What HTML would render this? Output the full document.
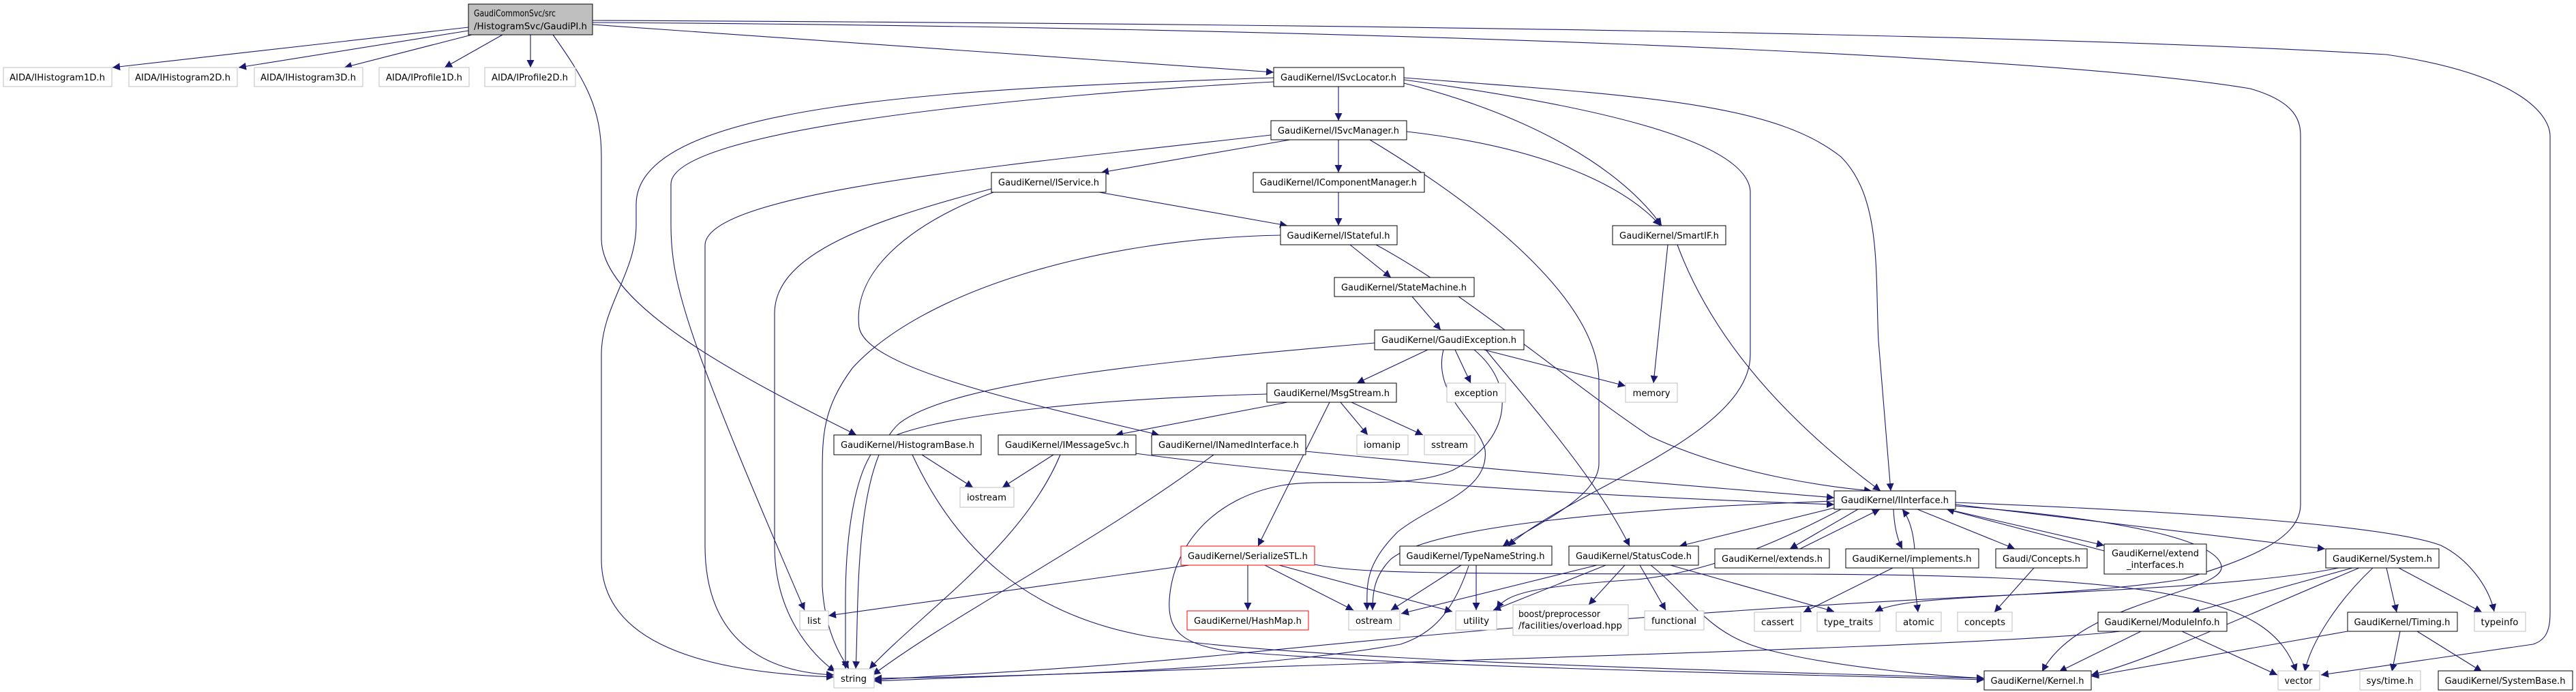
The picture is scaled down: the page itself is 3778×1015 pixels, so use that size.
<!DOCTYPE html>
<html><head><meta charset="utf-8"><style>
html,body{margin:0;padding:0;background:#fff;}
svg{display:block;}
text{font-family:"DejaVu Sans","Liberation Sans",sans-serif;font-size:13px;fill:#000;}
</style></head><body>
<svg width="3778" height="1015" viewBox="0 0 3778 1015" xmlns="http://www.w3.org/2000/svg">
<defs>
<marker id="a" viewBox="0 0 10 10" refX="10" refY="5" markerWidth="11" markerHeight="11" markerUnits="userSpaceOnUse" orient="auto">
<path d="M0,0 L10,5 L0,10 z" fill="#191970"/>
</marker>
</defs>
<g fill="none" stroke="#191970" stroke-width="1.1" marker-end="url(#a)">
<path d="M687,40 L165,99"/>
<path d="M687,45 L350,99"/>
<path d="M692,51 L505,99"/>
<path d="M737,51 L652,99"/>
<path d="M778,51 L778,99"/>
<path d="M869,36 L1868,106"/>
<path d="M811,51 C860,120 882,160 882,230 L882,350 C882,450 1100,560 1256,638"/>
<path d="M869,30 C2000,35 3000,50 3500,80 C3700,110 3740,170 3740,200 L3740,900 C3740,930 3730,940 3715,945 L3404,990"/>
<path d="M869,33 C2000,40 3000,80 3300,130 C3370,150 3374,180 3374,200 L3374,740 C3374,790 3300,820 3200,850 C3000,880 2800,870 2750,897"/>
<path d="M1963,127 L1963,177"/>
<path d="M1868,114 C1400,130 933,150 933,300 L933,330 C933,400 882,450 882,520 L882,820 C882,930 1000,985 1223,993"/>
<path d="M1868,120 C1500,140 984,190 984,270 L984,330 C984,420 1010,500 1180,895"/>
<path d="M2059,122 C2250,170 2380,250 2437,331"/>
<path d="M2059,117 C2300,150 2560,200 2567,280 L2567,520 C2567,640 2300,720 2212,801"/>
<path d="M2059,114 C2400,140 2600,150 2700,230 C2760,290 2750,400 2755,500 L2773,720"/>
<path d="M1892,205 L1615,253"/>
<path d="M1963,205 L1963,253"/>
<path d="M2063,193 C2300,220 2400,290 2435,331"/>
<path d="M2009,205 C2200,320 2345,450 2345,560 L2345,680 C2345,730 2250,770 2204,801"/>
<path d="M1864,198 C1500,240 1034,280 1034,360 L1034,800 C1034,920 1100,985 1223,990"/>
<path d="M1612,282 L1888,331"/>
<path d="M1963,282 L1963,331"/>
<path d="M1454,277 C1250,330 1136,380 1136,460 L1136,800 C1136,900 1190,960 1225,985"/>
<path d="M1457,282 C1330,330 1250,400 1260,480 C1270,540 1500,590 1700,638"/>
<path d="M1980,359 L2040,407"/>
<path d="M1878,345 C1600,350 1350,430 1250,540 C1206,600 1206,640 1206,700 L1206,860 C1210,930 1235,965 1245,981"/>
<path d="M2018,359 C2150,430 2300,560 2420,640 C2550,700 2700,716 2745,720"/>
<path d="M2446,359 L2425,562"/>
<path d="M2460,359 C2520,520 2650,640 2758,720"/>
<path d="M2071,435 L2113,484"/>
<path d="M2094,513 L1990,562"/>
<path d="M2134,513 L2157,562"/>
<path d="M2176,513 L2384,566"/>
<path d="M2179,513 C2250,600 2340,700 2390,801"/>
<path d="M2016,503 C1700,530 1400,560 1320,620 C1250,680 1260,900 1255,981"/>
<path d="M2117,513 C2100,580 2170,620 2178,660 C2185,720 2100,740 2050,780 C2000,830 2005,860 2005,895"/>
<path d="M2162,513 C2230,570 2210,650 2130,690 C2060,720 1950,700 1880,712 C1780,730 1720,800 1715,880 C1712,930 1740,945 1800,955 C2100,980 2600,988 2910,997"/>
<path d="M1888,590 L1636,638"/>
<path d="M1950,590 L1845,801"/>
<path d="M1966,590 L2006,638"/>
<path d="M1982,590 L2087,638"/>
<path d="M1858,578 C1600,585 1350,610 1290,650 C1250,690 1240,800 1240,880 L1240,981"/>
<path d="M1352,667 L1427,715"/>
<path d="M1338,667 C1400,800 1500,900 1681,933 C1900,970 2600,985 2910,995"/>
<path d="M1545,667 L1470,715"/>
<path d="M1555,667 C1500,800 1350,900 1275,981"/>
<path d="M1665,665 C2000,710 2400,730 2690,740"/>
<path d="M1780,667 C1600,800 1400,900 1280,990"/>
<path d="M1915,662 C2200,690 2450,710 2690,730"/>
<path d="M1830,829 L1830,895"/>
<path d="M1855,829 L1985,895"/>
<path d="M1876,829 L2130,897"/>
<path d="M1744,829 L1215,903"/>
<path d="M1928,828 C1990,840 2063,842 2600,842 C3200,842 3330,880 3368,985"/>
<path d="M2143,829 L2040,895"/>
<path d="M2165,829 L2165,895"/>
<path d="M2154,830 C2130,900 2100,930 2054,945 C1800,990 1400,993 1282,995"/>
<path d="M2342,829 L2055,900"/>
<path d="M2355,829 L2190,895"/>
<path d="M2383,829 L2330,887"/>
<path d="M2405,829 L2443,895"/>
<path d="M2421,829 C2480,875 2505,935 2600,955 C2700,980 2850,992 2910,995"/>
<path d="M2450,829 L2690,897"/>
<path d="M2690,735 C2400,745 2100,770 2040,820 C2015,845 2013,870 2013,895"/>
<path d="M2690,745 L2463,801"/>
<path d="M2725,747 L2625,805"/>
<path d="M2640,805 L2757,747"/>
<path d="M2777,747 C2778,770 2782,790 2790,805"/>
<path d="M2808,805 C2806,780 2800,760 2790,747"/>
<path d="M2812,747 L2955,805"/>
<path d="M2856,747 L3086,800"/>
<path d="M3086,808 L2855,747"/>
<path d="M2868,740 L3410,805"/>
<path d="M2868,737 C3200,750 3500,770 3580,800 C3620,820 3650,860 3658,897"/>
<path d="M2868,742 C3100,760 3250,790 3258,830 C3265,870 3050,880 2995,985"/>
<path d="M2700,747 C2600,800 2500,840 2400,850 C2250,860 2210,870 2195,893"/>
<path d="M2805,833 L2813,898"/>
<path d="M2776,833 L2645,898"/>
<path d="M2983,833 L2925,898"/>
<path d="M3460,833 C3300,900 3150,970 3067,990"/>
<path d="M3450,833 L3215,898"/>
<path d="M3480,833 C3430,880 3390,940 3380,985"/>
<path d="M3500,833 L3515,898"/>
<path d="M3518,833 L3640,898"/>
<path d="M3430,833 C3300,860 3000,870 2900,875 C2400,900 2000,940 1800,960 C1600,980 1400,990 1282,997"/>
<path d="M3140,926 L3020,985"/>
<path d="M3200,926 L3340,990"/>
<path d="M3110,926 C2900,950 2000,970 1282,999"/>
<path d="M3443,926 L3067,992"/>
<path d="M3520,926 L3508,985"/>
<path d="M3545,926 L3640,985"/>
</g>
<g stroke-width="1">
<rect x="687" y="6" width="182" height="45" fill="#bfbfbf" stroke="#000"/>
<text x="695" y="24" textLength="120" lengthAdjust="spacingAndGlyphs">GaudiCommonSvc/src</text>
<text x="695" y="43" textLength="166" lengthAdjust="spacingAndGlyphs">/HistogramSvc/GaudiPI.h</text>
</g>
<g fill="#fff" stroke-width="1">
<rect x="5" y="99" width="159" height="28" stroke="#bfbfbf"/>
<rect x="189" y="99" width="159" height="28" stroke="#bfbfbf"/>
<rect x="373" y="99" width="159" height="28" stroke="#bfbfbf"/>
<rect x="556" y="99" width="132" height="28" stroke="#bfbfbf"/>
<rect x="711" y="99" width="133" height="28" stroke="#bfbfbf"/>
<rect x="1868" y="99" width="191" height="28" stroke="#000"/>
<rect x="1864" y="177" width="199" height="28" stroke="#000"/>
<rect x="1454" y="253" width="168" height="29" stroke="#000"/>
<rect x="1838" y="253" width="251" height="29" stroke="#000"/>
<rect x="1878" y="331" width="171" height="28" stroke="#000"/>
<rect x="2365" y="331" width="166" height="28" stroke="#000"/>
<rect x="1957" y="407" width="205" height="28" stroke="#000"/>
<rect x="2016" y="484" width="219" height="29" stroke="#000"/>
<rect x="1858" y="562" width="190" height="28" stroke="#000"/>
<rect x="2122" y="562" width="86" height="28" stroke="#bfbfbf"/>
<rect x="2384" y="562" width="76" height="28" stroke="#bfbfbf"/>
<rect x="1223" y="638" width="216" height="29" stroke="#000"/>
<rect x="1464" y="638" width="202" height="29" stroke="#000"/>
<rect x="1689" y="638" width="226" height="29" stroke="#000"/>
<rect x="1990" y="638" width="75" height="29" stroke="#bfbfbf"/>
<rect x="2089" y="638" width="74" height="29" stroke="#bfbfbf"/>
<rect x="1408" y="715" width="79" height="29" stroke="#bfbfbf"/>
<rect x="2690" y="720" width="178" height="27" stroke="#000"/>
<rect x="1732" y="801" width="196" height="28" stroke="#ff0000"/>
<rect x="2053" y="801" width="223" height="28" stroke="#000"/>
<rect x="2301" y="801" width="190" height="28" stroke="#000"/>
<rect x="2515" y="805" width="168" height="28" stroke="#000"/>
<rect x="2707" y="805" width="195" height="28" stroke="#000"/>
<rect x="2927" y="805" width="134" height="28" stroke="#000"/>
<rect x="3086" y="798" width="150" height="44" stroke="#000"/>
<rect x="3411" y="805" width="166" height="28" stroke="#000"/>
<rect x="1741" y="896" width="178" height="28" stroke="#ff0000"/>
<rect x="1978" y="896" width="75" height="28" stroke="#bfbfbf"/>
<rect x="2135" y="896" width="60" height="28" stroke="#bfbfbf"/>
<rect x="2219" y="887" width="169" height="45" stroke="#bfbfbf"/>
<rect x="2412" y="896" width="87" height="28" stroke="#bfbfbf"/>
<rect x="1173" y="896" width="42" height="28" stroke="#bfbfbf"/>
<rect x="2573" y="898" width="68" height="28" stroke="#bfbfbf"/>
<rect x="2665" y="898" width="92" height="28" stroke="#bfbfbf"/>
<rect x="2781" y="898" width="66" height="28" stroke="#bfbfbf"/>
<rect x="2871" y="898" width="80" height="28" stroke="#bfbfbf"/>
<rect x="3077" y="898" width="189" height="28" stroke="#000"/>
<rect x="3443" y="898" width="161" height="28" stroke="#000"/>
<rect x="3629" y="898" width="75" height="28" stroke="#bfbfbf"/>
<rect x="1223" y="981" width="59" height="28" stroke="#bfbfbf"/>
<rect x="2910" y="984" width="157" height="28" stroke="#000"/>
<rect x="3341" y="984" width="61" height="28" stroke="#bfbfbf"/>
<rect x="3461" y="984" width="89" height="28" stroke="#bfbfbf"/>
<rect x="3576" y="984" width="197" height="28" stroke="#000"/>
</g>
<g text-anchor="middle">
<text x="84" y="118" textLength="140" lengthAdjust="spacingAndGlyphs">AIDA/IHistogram1D.h</text>
<text x="268" y="118" textLength="140" lengthAdjust="spacingAndGlyphs">AIDA/IHistogram2D.h</text>
<text x="452" y="118" textLength="140" lengthAdjust="spacingAndGlyphs">AIDA/IHistogram3D.h</text>
<text x="622" y="118" textLength="112" lengthAdjust="spacingAndGlyphs">AIDA/IProfile1D.h</text>
<text x="777" y="118" textLength="112" lengthAdjust="spacingAndGlyphs">AIDA/IProfile2D.h</text>
<text x="1963" y="118" textLength="170" lengthAdjust="spacingAndGlyphs">GaudiKernel/ISvcLocator.h</text>
<text x="1963" y="196" textLength="178" lengthAdjust="spacingAndGlyphs">GaudiKernel/ISvcManager.h</text>
<text x="1538" y="272" textLength="148" lengthAdjust="spacingAndGlyphs">GaudiKernel/IService.h</text>
<text x="1963" y="272" textLength="230" lengthAdjust="spacingAndGlyphs">GaudiKernel/IComponentManager.h</text>
<text x="1963" y="350" textLength="151" lengthAdjust="spacingAndGlyphs">GaudiKernel/IStateful.h</text>
<text x="2448" y="350" textLength="146" lengthAdjust="spacingAndGlyphs">GaudiKernel/SmartIF.h</text>
<text x="2059" y="426" textLength="184" lengthAdjust="spacingAndGlyphs">GaudiKernel/StateMachine.h</text>
<text x="2125" y="503" textLength="198" lengthAdjust="spacingAndGlyphs">GaudiKernel/GaudiException.h</text>
<text x="1953" y="581" textLength="170" lengthAdjust="spacingAndGlyphs">GaudiKernel/MsgStream.h</text>
<text x="2165" y="581" textLength="64" lengthAdjust="spacingAndGlyphs">exception</text>
<text x="2422" y="581" textLength="55" lengthAdjust="spacingAndGlyphs">memory</text>
<text x="1331" y="657" textLength="196" lengthAdjust="spacingAndGlyphs">GaudiKernel/HistogramBase.h</text>
<text x="1565" y="657" textLength="182" lengthAdjust="spacingAndGlyphs">GaudiKernel/IMessageSvc.h</text>
<text x="1802" y="657" textLength="206" lengthAdjust="spacingAndGlyphs">GaudiKernel/INamedInterface.h</text>
<text x="2027" y="657" textLength="54" lengthAdjust="spacingAndGlyphs">iomanip</text>
<text x="2126" y="657" textLength="54" lengthAdjust="spacingAndGlyphs">sstream</text>
<text x="1447" y="734" textLength="58" lengthAdjust="spacingAndGlyphs">iostream</text>
<text x="2779" y="738" textLength="158" lengthAdjust="spacingAndGlyphs">GaudiKernel/IInterface.h</text>
<text x="1830" y="820" textLength="176" lengthAdjust="spacingAndGlyphs">GaudiKernel/SerializeSTL.h</text>
<text x="2164" y="820" textLength="203" lengthAdjust="spacingAndGlyphs">GaudiKernel/TypeNameString.h</text>
<text x="2396" y="820" textLength="170" lengthAdjust="spacingAndGlyphs">GaudiKernel/StatusCode.h</text>
<text x="2599" y="824" textLength="148" lengthAdjust="spacingAndGlyphs">GaudiKernel/extends.h</text>
<text x="2804" y="824" textLength="175" lengthAdjust="spacingAndGlyphs">GaudiKernel/implements.h</text>
<text x="2994" y="824" textLength="114" lengthAdjust="spacingAndGlyphs">Gaudi/Concepts.h</text>
<text x="3161" y="816" textLength="128" lengthAdjust="spacingAndGlyphs">GaudiKernel/extend</text>
<text x="3161" y="833" textLength="84" lengthAdjust="spacingAndGlyphs">_interfaces.h</text>
<text x="3494" y="824" textLength="146" lengthAdjust="spacingAndGlyphs">GaudiKernel/System.h</text>
<text x="1830" y="915" textLength="158" lengthAdjust="spacingAndGlyphs">GaudiKernel/HashMap.h</text>
<text x="2015" y="915" textLength="54" lengthAdjust="spacingAndGlyphs">ostream</text>
<text x="2165" y="915" textLength="38" lengthAdjust="spacingAndGlyphs">utility</text>
<text x="2455" y="915" textLength="66" lengthAdjust="spacingAndGlyphs">functional</text>
<text x="1194" y="915" textLength="20" lengthAdjust="spacingAndGlyphs">list</text>
<text x="2607" y="917" textLength="48" lengthAdjust="spacingAndGlyphs">cassert</text>
<text x="2711" y="917" textLength="72" lengthAdjust="spacingAndGlyphs">type_traits</text>
<text x="2814" y="917" textLength="46" lengthAdjust="spacingAndGlyphs">atomic</text>
<text x="2911" y="917" textLength="60" lengthAdjust="spacingAndGlyphs">concepts</text>
<text x="3171" y="917" textLength="169" lengthAdjust="spacingAndGlyphs">GaudiKernel/ModuleInfo.h</text>
<text x="3523" y="917" textLength="141" lengthAdjust="spacingAndGlyphs">GaudiKernel/Timing.h</text>
<text x="3666" y="917" textLength="55" lengthAdjust="spacingAndGlyphs">typeinfo</text>
<text x="1252" y="1000" textLength="38" lengthAdjust="spacingAndGlyphs">string</text>
<text x="2988" y="1003" textLength="137" lengthAdjust="spacingAndGlyphs">GaudiKernel/Kernel.h</text>
<text x="3371" y="1003" textLength="41" lengthAdjust="spacingAndGlyphs">vector</text>
<text x="3505" y="1003" textLength="69" lengthAdjust="spacingAndGlyphs">sys/time.h</text>
<text x="3674" y="1003" textLength="177" lengthAdjust="spacingAndGlyphs">GaudiKernel/SystemBase.h</text>
</g>
<text x="2227" y="905" textLength="120" lengthAdjust="spacingAndGlyphs">boost/preprocessor</text>
<text x="2227" y="922" textLength="152" lengthAdjust="spacingAndGlyphs">/facilities/overload.hpp</text>
</svg>
</body></html>
